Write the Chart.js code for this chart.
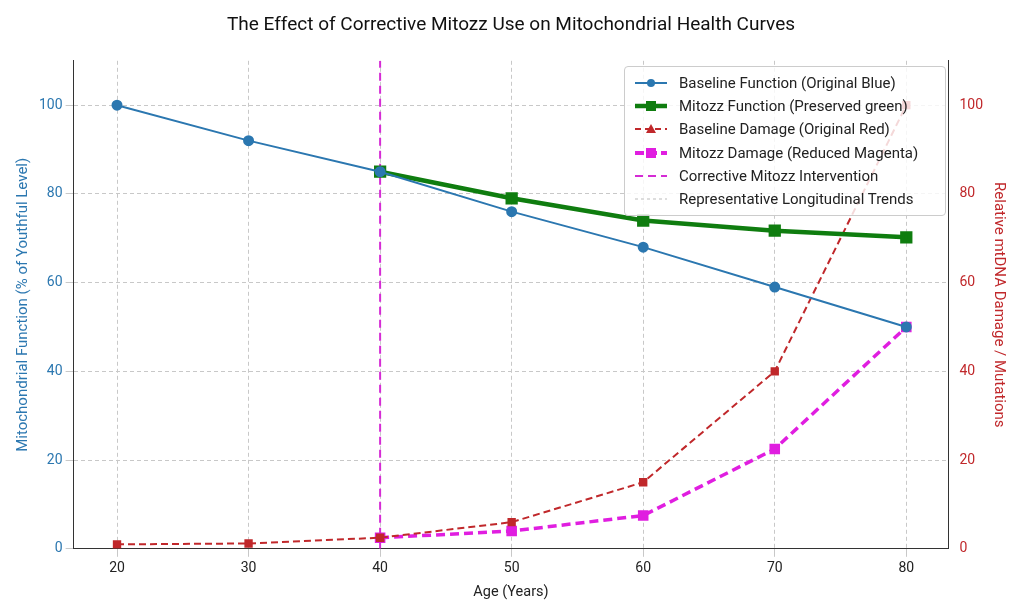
<!DOCTYPE html>
<html><head><meta charset="utf-8">
<script src="https://cdn.jsdelivr.net/npm/chart.js@4"></script>
<style>
body{margin:0;background:#fff;font-family:Roboto,sans-serif}
#wrap{position:relative;width:1024px;height:615px}
#legend{position:absolute;left:624px;top:66px;width:304px;background:rgba(255,255,255,0.82);border:1px solid #ccc;border-radius:4px;padding:4px 8px;font-size:15px;color:#222}
#legend div{height:23.3px;display:flex;align-items:center}
#legend svg{width:36px;height:14px;margin-right:10px;flex:none}
</style></head><body>
<div id="wrap"><canvas id="c" width="1024" height="615"></canvas>
<div id="legend"></div></div>
<script>
const ages=[20,30,40,50,60,70,80];
const baselineFunction=[100,92,85,76,68,59,50];
const mitozzAges=[40,50,60,70,80];
const mitozzFunction=[85,79,74,71.7,70.2];
const baselineDamage=[1,1.2,2.5,6,15,40,100];
const mitozzDamage=[2.5,4,7.5,22.5,50];
const interventionAge=40;
const legendLabels=["Baseline Function (Original Blue)","Mitozz Function (Preserved green)","Baseline Damage (Original Red)","Mitozz Damage (Reduced Magenta)","Corrective Mitozz Intervention","Representative Longitudinal Trends"];

const pts=(xs,ys)=>xs.map((x,i)=>({x,y:ys[i]}));
const F="Roboto, sans-serif";
new Chart(document.getElementById('c'),{
type:'line',
data:{datasets:[
{label:legendLabels[0],data:pts(ages,baselineFunction),borderColor:'#2b77b0',backgroundColor:'#2b77b0',borderWidth:2,pointRadius:4.5,yAxisID:'y'},
{label:legendLabels[1],data:pts(mitozzAges,mitozzFunction),borderColor:'#0f7d0f',backgroundColor:'#0f7d0f',borderWidth:4.5,pointStyle:'rect',pointRadius:5.5,yAxisID:'y'},
{label:legendLabels[2],data:pts(ages,baselineDamage),borderColor:'#c0282b',backgroundColor:'#c0282b',borderWidth:2,borderDash:[7,4],pointStyle:'rect',pointRadius:4.5,yAxisID:'y2'},
{label:legendLabels[3],data:pts(mitozzAges,mitozzDamage),borderColor:'#e01ee0',backgroundColor:'#e01ee0',borderWidth:3.5,borderDash:[9,5],pointStyle:'rect',pointRadius:5,yAxisID:'y2'},
{label:legendLabels[4],data:[{x:interventionAge,y:0},{x:interventionAge,y:110}],borderColor:'#d52bd5',borderWidth:2,borderDash:[8,5],pointRadius:0,yAxisID:'y'}
]},
options:{responsive:false,animation:false,
layout:{padding:{left:10,right:12,top:4,bottom:10}},
plugins:{legend:{display:false},
title:{display:true,text:'The Effect of Corrective Mitozz Use on Mitochondrial Health Curves',color:'#111',font:{family:F,size:19,weight:'normal'},padding:{top:10,bottom:24}}},
scales:{
x:{type:'linear',min:16.7,max:83.2,afterBuildTicks:a=>{a.ticks=ages.map(v=>({value:v}))},
 grid:{color:'#c8c8c8'},border:{color:'#333',dash:[4,3]},
 ticks:{color:'#222',font:{family:F,size:14}},
 title:{display:true,text:'Age (Years)',color:'#222',font:{family:F,size:14.5}}},
y:{min:0,max:110,afterBuildTicks:a=>{a.ticks=[0,20,40,60,80,100].map(v=>({value:v}))},
 grid:{color:'#c8c8c8'},border:{color:'#333',dash:[4,3]},
 ticks:{color:'#2b77b0',font:{family:F,size:14}},
 title:{display:true,text:'Mitochondrial Function (% of Youthful Level)',color:'#2b77b0',font:{family:F,size:15}}},
y2:{position:'right',min:0,max:110,afterBuildTicks:a=>{a.ticks=[0,20,40,60,80,100].map(v=>({value:v}))},
 grid:{display:false},border:{color:'#333'},
 ticks:{color:'#c0282b',font:{family:F,size:14}},
 title:{display:true,text:'Relative mtDNA Damage / Mutations',color:'#c0282b',font:{family:F,size:15}}}
}}});
const sw=[
'<line x1="2" y1="7" x2="34" y2="7" stroke="#2b77b0" stroke-width="2"/><circle cx="18" cy="7" r="4" fill="#2b77b0"/>',
'<line x1="2" y1="7" x2="34" y2="7" stroke="#0f7d0f" stroke-width="4.5"/><rect x="13" y="2" width="10" height="10" fill="#0f7d0f"/>',
'<line x1="2" y1="7" x2="34" y2="7" stroke="#c0282b" stroke-width="2" stroke-dasharray="6,4"/><polygon points="18,2 23,11 13,11" fill="#c0282b"/>',
'<line x1="2" y1="7" x2="34" y2="7" stroke="#e01ee0" stroke-width="4" stroke-dasharray="9,4"/><rect x="13" y="2" width="10" height="10" fill="#e01ee0"/>',
'<line x1="2" y1="7" x2="34" y2="7" stroke="#d52bd5" stroke-width="2" stroke-dasharray="8,5"/>',
'<line x1="2" y1="7" x2="34" y2="7" stroke="#bbb" stroke-width="1" stroke-dasharray="3,3"/>'];
document.getElementById('legend').innerHTML=legendLabels.map((t,i)=>'<div><svg viewBox="0 0 36 14">'+sw[i]+'</svg><span>'+t+'</span></div>').join('');
</script></body></html>
